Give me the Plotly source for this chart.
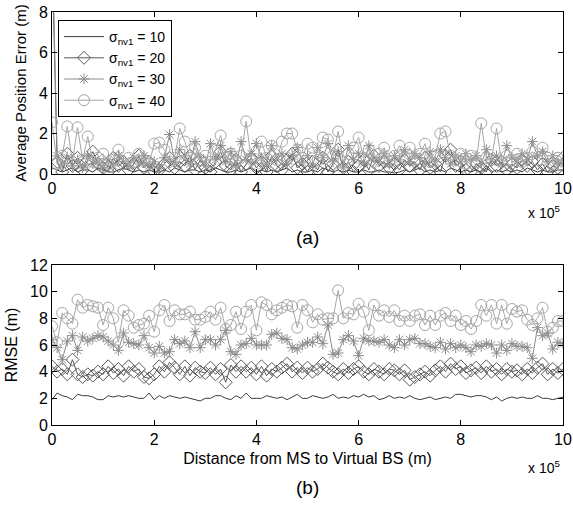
import numpy as np
import plotly.graph_objects as go

# x axis in units of 1e5 m (0 .. 10, step 0.1)
dist = np.round(np.arange(0, 10.01, 0.1), 1)

# ---- panel (a): average position error (m)
ape_10 = [0.3, 0.2, 0.1, 0.2, 0.3, 0.1, 0.2, 0.2, 0.1, 0.3,
          0.2, 0.1, 0.1, 0.2, 0.3, 0.2, 0.1, 0.2, 0.1, 0.2,
          0.1, 0.1, 0.2, 0.1, 0.3, 0.2, 0.1, 0.2, 0.2, 0.1,
          0.2, 0.1, 0.3, 0.2, 0.1, 0.1, 0.2, 0.1, 0.2, 0.3,
          0.1, 0.2, 0.1, 0.2, 0.1, 0.2, 0.3, 0.1, 0.2, 0.1,
          0.1, 0.2, 0.1, 0.3, 0.2, 0.1, 0.2, 0.1, 0.2, 0.1,
          0.1, 0.2, 0.1, 0.1, 0.2, 0.1, 0.1, 0.05, 0.1, 0.2,
          0.1, 0.2, 0.3, 0.1, 0.2, 0.1, 0.2, 0.1, 0.3, 0.2,
          0.1, 0.2, 0.1, 0.2, 0.1, 0.3, 0.1, 0.2, 0.1, 0.2,
          0.1, 0.2, 0.1, 0.3, 0.2, 0.1, 0.2, 0.1, 0.1, 0.2,
          0.2]
ape_20 = [11.0, 0.6, 0.1, 1.0, 0.4, 0.8, 0.2, 0.7, 1.1, 0.5,
          0.3, 0.1, 0.8, 0.4, 0.6, 0.2, 0.5, 0.9, 0.3, 0.6,
          0.1, 0.2, 0.5, 0.8, 0.3, 0.6, 0.4, 0.9, 0.2, 0.7,
          0.3, 0.1, 0.6, 1.1, 0.4, 0.2, 0.7, 0.1, 0.5, 0.8,
          0.3, 0.6, 0.1, 0.9, 0.4, 0.2, 0.7, 1.0, 0.3, 0.5,
          0.1, 0.6, 0.2, 0.8, 0.1, 0.5, 1.2, 0.3, 0.6, 0.1,
          0.4, 0.7, 0.2, 0.9, 0.4, 0.6, 0.3, 0.5, 0.2, 0.7,
          0.4, 0.6, 0.2, 0.8, 0.3, 0.5, 0.1, 0.9, 1.2, 0.4,
          0.6, 0.2, 0.1, 0.5, 0.3, 0.1, 0.7, 0.4, 0.6, 0.2,
          0.5, 0.3, 0.7, 0.4, 0.6, 0.2, 0.5, 0.1, 0.4, 0.3,
          0.8]
ape_30 = [12.0, 0.9, 0.5, 0.8, 0.4, 0.7, 0.3, 0.9, 0.5, 0.6,
          0.3, 0.7, 0.4, 0.9, 0.6, 0.4, 0.8, 0.5, 0.9, 0.4,
          0.6, 0.3, 0.8, 1.95, 0.6, 1.2, 0.9, 0.5, 1.6, 0.8,
          0.4, 1.5, 0.7, 1.4, 0.6, 1.1, 0.4, 1.6, 0.7, 1.0,
          1.5, 0.8, 0.5, 1.4, 0.7, 1.0, 0.5, 0.9, 1.3, 0.6,
          0.9, 0.4, 1.3, 0.8, 1.5, 0.6, 1.1, 0.3, 1.4, 0.7,
          1.0, 0.5, 1.4, 0.8, 0.6, 1.0, 0.5, 0.9, 0.7, 1.2,
          0.6, 1.0, 0.8, 0.5, 1.1, 0.6, 1.2, 0.8, 0.5, 0.9,
          0.6, 1.0, 0.7, 0.9, 0.5, 1.2, 0.7, 0.9, 0.5, 1.4,
          0.8, 0.6, 1.0, 0.7, 1.6, 0.9, 1.1, 0.6, 0.9, 0.5,
          0.7]
ape_40 = [2.55, 0.5, 0.9, 2.35, 0.6, 2.3, 0.7, 1.85, 0.6, 0.8,
          1.0, 0.5, 0.7, 1.2, 0.5, 0.8, 0.6, 1.0, 0.7, 0.5,
          1.5, 1.55, 1.2, 0.6, 0.8, 2.25, 1.6, 0.8, 1.3, 0.7,
          0.9, 0.6, 1.2, 1.9, 0.8, 1.0, 0.6, 0.9, 2.6, 0.7,
          0.5, 1.6, 0.8, 1.4, 0.7, 1.6, 2.0, 2.0, 1.2, 0.8,
          1.5, 1.3, 0.7, 1.8, 1.7, 0.9, 2.1, 0.6, 1.0, 1.3,
          1.8, 0.8, 1.2, 0.6, 1.0, 1.3, 0.6, 0.9, 1.4, 0.8,
          1.3, 0.7, 1.0, 1.5, 0.6, 0.9, 2.0, 2.1, 0.9, 0.7,
          1.0, 0.5, 0.9, 0.6, 2.5, 0.8, 0.7, 2.25, 0.6, 0.9,
          0.7, 1.0, 0.6, 0.8, 1.1, 0.7, 1.3, 0.8, 0.5, 0.8,
          0.4]

# ---- panel (b): RMSE (m)
rmse_10 = [1.9, 2.4, 2.2, 2.1, 1.9, 2.3, 2.2, 2.2, 2.1, 1.9,
           1.9, 2.2, 2.1, 2.2, 2.1, 2.2, 2.1, 2.0, 2.0, 2.4,
           1.9, 2.2, 2.0, 2.2, 2.1, 2.0, 2.1, 2.0, 1.9, 1.8,
           2.0, 2.0, 2.2, 2.2, 2.0, 1.9, 2.2, 2.0, 2.4, 2.0,
           2.0, 2.0, 2.2, 2.1, 2.0, 2.1, 1.9, 2.1, 2.3, 2.0,
           2.0, 2.2, 2.1, 2.0, 2.1, 2.3, 2.0, 2.1, 2.0, 2.2,
           2.1, 2.3, 2.1, 2.2, 1.9, 2.0, 2.2, 2.0, 2.1, 2.0,
           2.2, 2.0, 1.9, 2.0, 2.1, 1.9, 2.0, 2.1, 2.0, 2.3,
           2.3, 2.2, 2.1, 2.2, 2.2, 2.1, 1.9, 2.1, 1.8, 2.0,
           2.1, 2.0, 2.1, 2.0, 2.0, 2.2, 2.0, 2.0, 1.9, 2.0,
           2.1]
rmse_20 = [4.4, 4.0, 4.2, 3.8, 4.9, 3.8, 3.6, 3.8, 3.7, 4.0,
           3.8, 4.4, 3.9, 4.2, 3.7, 4.4, 4.0, 4.2, 3.6, 3.5,
           3.8, 4.4, 4.0, 4.7, 4.3, 3.8, 4.4, 3.7, 4.3, 4.0,
           3.9, 4.3, 3.8, 4.2, 3.2, 4.5, 4.0, 4.4, 4.0, 4.3,
           3.8, 4.4, 3.7, 4.2, 4.0, 4.3, 4.6, 4.0, 4.3, 3.9,
           4.3, 4.0, 4.2, 4.6, 4.3, 4.0, 3.8, 4.2, 3.9, 4.2,
           4.4, 4.0, 3.8, 4.2, 4.0, 3.8, 4.2, 4.1, 3.8, 4.1,
           3.4, 3.6, 3.8, 4.0, 3.7, 4.1, 4.4, 4.0, 4.6, 4.2,
           4.4, 3.9, 4.1, 4.3, 3.9, 4.4, 4.0, 4.2, 3.8, 4.2,
           4.0, 4.1, 3.8, 4.2, 3.9, 4.3, 4.6, 3.8, 4.2, 3.9,
           4.2]
rmse_30 = [6.4, 5.8, 4.9, 6.3, 6.7, 5.6, 6.6, 6.3, 6.5, 6.7,
           6.6, 6.3, 6.0, 5.6, 6.9, 6.2, 6.1, 6.0, 6.7, 5.8,
           5.4, 5.9, 5.4, 5.5, 6.4, 6.1, 6.3, 5.8, 7.0, 5.8,
           6.4, 6.4, 6.0, 6.4, 7.1, 5.5, 5.3, 6.0, 6.1, 6.5,
           6.0, 6.0, 6.0, 6.8, 6.9, 6.5, 6.4, 5.8, 5.7, 6.0,
           6.2, 6.2, 6.6, 6.1, 7.5, 5.3, 5.4, 6.4, 6.7, 6.3,
           5.2, 6.5, 6.3, 6.3, 6.2, 6.4, 6.0, 5.8, 6.4, 6.0,
           6.4, 6.5, 6.1, 6.1, 5.9, 5.8, 6.2, 5.7, 6.1, 5.8,
           6.0, 5.8, 5.5, 6.0, 5.9, 6.1, 6.0, 5.4, 6.0, 5.6,
           6.1, 5.9, 5.9, 5.8, 5.0, 7.3, 6.7, 6.9, 5.7, 6.2,
           6.1]
rmse_40 = [7.4, 6.2, 8.4, 8.0, 7.6, 9.4, 8.8, 9.0, 8.9, 8.8,
           7.5, 8.8, 8.0, 6.2, 8.6, 8.2, 7.3, 7.5, 7.6, 8.2,
           7.0, 8.6, 9.0, 7.8, 8.6, 8.3, 8.3, 8.5, 7.9, 7.9,
           8.1, 8.5, 7.9, 8.8, 7.2, 7.5, 8.5, 7.2, 8.5, 9.0,
           7.1, 9.2, 9.0, 8.3, 8.6, 8.8, 9.0, 8.9, 7.3, 9.0,
           8.6, 7.7, 8.3, 7.9, 8.0, 8.0, 10.1, 8.0, 8.4, 8.3,
           9.1, 8.5, 7.1, 9.0, 8.2, 8.6, 8.1, 8.6, 7.8, 8.2,
           7.8, 8.2, 8.3, 7.5, 8.2, 7.5, 8.2, 8.4, 7.8, 8.2,
           7.5, 7.8, 7.2, 7.8, 9.0, 8.2, 9.0, 7.6, 9.0, 7.6,
           8.7, 8.5, 8.6, 7.9, 7.5, 8.0, 8.8, 7.0, 7.3, 7.8,
           7.8]

names = ["σ<sub>nv1</sub> = 10", "σ<sub>nv1</sub> = 20",
         "σ<sub>nv1</sub> = 30", "σ<sub>nv1</sub> = 40"]

styles = [
    dict(mode="lines", line=dict(color="#3c3c3c", width=1)),
    dict(mode="lines+markers", line=dict(color="#5a5a5a", width=1),
         marker=dict(symbol="diamond-open", size=10, color="#5a5a5a", line=dict(width=1))),
    dict(mode="lines+markers", line=dict(color="#8c8c8c", width=1),
         marker=dict(symbol="asterisk-open", size=9, color="#8c8c8c", line=dict(width=1, color="#8c8c8c"))),
    dict(mode="lines+markers", line=dict(color="#a6a6a6", width=1),
         marker=dict(symbol="circle-open", size=11, color="#a6a6a6", line=dict(width=1))),
]

fig = go.Figure()
for i, ys in enumerate([ape_10, ape_20, ape_30, ape_40]):
    fig.add_trace(go.Scatter(x=dist, y=ys, name=names[i], xaxis="x", yaxis="y",
                             showlegend=True, **styles[i]))
for i, ys in enumerate([rmse_10, rmse_20, rmse_30, rmse_40]):
    fig.add_trace(go.Scatter(x=dist, y=ys, name=names[i], xaxis="x2", yaxis="y2",
                             showlegend=False, **styles[i]))

W, H = 573, 518
xl, xr = 52 / W, 563 / W

ax = dict(showline=True, linecolor="black", linewidth=1, mirror="ticks",
          ticks="inside", ticklen=5, tickcolor="black", showgrid=False,
          zeroline=False, automargin=False, tickfont=dict(size=16, color="black"))

fig.update_layout(
    width=W, height=H,
    margin=dict(l=0, r=0, t=0, b=0),
    paper_bgcolor="white", plot_bgcolor="white",
    font=dict(family="Liberation Sans, Arial, sans-serif", color="black"),
    xaxis=dict(domain=[xl, xr], range=[0, 10], dtick=2, anchor="y", **ax),
    yaxis=dict(domain=[1 - 174 / H, 1 - 12 / H], range=[0, 8], dtick=2, anchor="x",
               title=dict(text="Average Position Error (m)", font=dict(size=15), standoff=8), **ax),
    xaxis2=dict(domain=[xl, xr], range=[0, 10], dtick=2, anchor="y2",
                title=dict(text="Distance from MS to Virtual BS (m)", font=dict(size=16), standoff=5), **ax),
    yaxis2=dict(domain=[1 - 425 / H, 1 - 265 / H], range=[0, 12], dtick=2, anchor="x2",
                title=dict(text="RMSE (m)", font=dict(size=16), standoff=8), **ax),
    legend=dict(x=58 / W, y=1 - 20 / H, xanchor="left", yanchor="top",
                bgcolor="white", bordercolor="black", borderwidth=1,
                font=dict(size=14), itemwidth=40, tracegroupgap=0),
    annotations=[
        dict(text="x 10<sup>5</sup>", x=562 / W, y=1 - 212 / H, xref="paper", yref="paper",
             xanchor="right", yanchor="middle", showarrow=False, font=dict(size=14)),
        dict(text="x 10<sup>5</sup>", x=562 / W, y=1 - 467 / H, xref="paper", yref="paper",
             xanchor="right", yanchor="middle", showarrow=False, font=dict(size=14)),
        dict(text="(a)", x=0.5 * (xl + xr), y=1 - 238 / H, xref="paper", yref="paper",
             showarrow=False, font=dict(size=19)),
        dict(text="(b)", x=0.5 * (xl + xr), y=1 - 500 / H, xref="paper", yref="paper",
             showarrow=False, font=dict(size=19)),
    ],
)

# page body has a default 8px margin; drop it so the figure fills the window
fig.write_html("out.html", config={"displayModeBar": False},
               post_script="document.body.style.margin='0';")
